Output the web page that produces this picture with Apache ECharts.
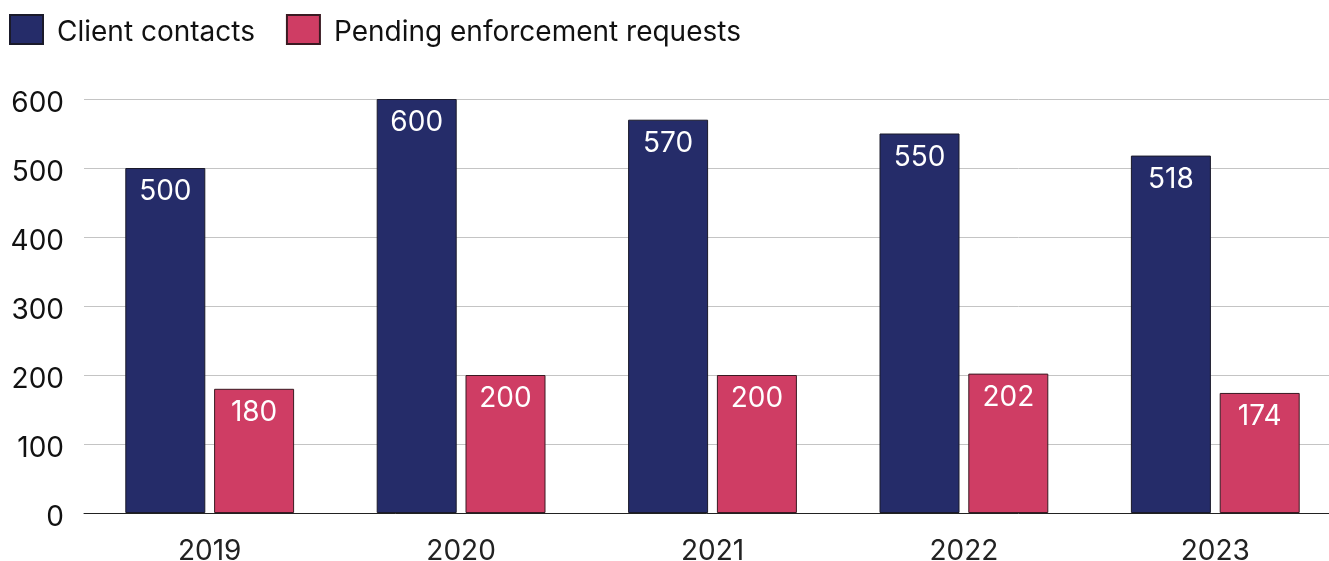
<!DOCTYPE html>
<html>
<head>
<meta charset="utf-8">
<script src="https://cdn.jsdelivr.net/npm/echarts@6/dist/echarts.min.js"></script>
<style>
html,body{margin:0;padding:0;background:#fff;}
#chart{width:1329px;height:561px;}
</style>
</head>
<body>
<div id="chart"></div>
<script>
const categories = ['2019', '2020', '2021', '2022', '2023'];
const clientContacts = [500, 600, 570, 550, 518];
const pendingRequests = [180, 200, 200, 202, 174];
const seriesNames = ['Client contacts', 'Pending enforcement requests'];
const yTicks = { min: 0, max: 600, interval: 100 };

const FONT = 'Inter, "Noto Sans", sans-serif';
const chart = echarts.init(document.getElementById('chart'));
chart.setOption({
  animation: false,
  textStyle: { fontFamily: FONT },
  legend: {
    left: 9, top: 14, padding: 0,
    itemWidth: 33, itemHeight: 29,
    itemGap: 31,
    icon: 'rect',
    formatter: '{t|{name}}',
    textStyle: {
      fontSize: 28, color: '#111', fontFamily: FONT,
      rich: { t: { fontSize: 28, color: '#111', fontFamily: FONT, padding: [6, 0, 0, 9] } }
    },
    data: seriesNames
  },
  grid: { left: 84, right: -12, top: 99, height: 414, containLabel: false, outerBoundsMode: 'none' },
  xAxis: {
    type: 'category',
    data: categories,
    axisLine: { lineStyle: { color: '#222', width: 1 } },
    axisTick: { show: false },
    axisLabel: { fontSize: 28, color: '#222', margin: 25, fontFamily: FONT }
  },
  yAxis: {
    type: 'value',
    min: yTicks.min, max: yTicks.max, interval: yTicks.interval,
    axisLine: { show: false },
    axisTick: { show: false },
    splitLine: { lineStyle: { color: '#c4c4c4', width: 1 } },
    axisLabel: {
      margin: 20,
      formatter: '{v|{value}}',
      rich: { v: { fontSize: 28, color: '#111', fontFamily: FONT, padding: [9, 0, 0, 0] } }
    }
  },
  series: [
    {
      name: seriesNames[0], type: 'bar', data: clientContacts,
      barWidth: 80, barGap: '11%',
      itemStyle: { color: '#252C69', borderColor: '#1a1a2a', borderWidth: 1 },
      label: { show: true, position: 'insideTop', distance: 10, color: '#fff', fontSize: 28, fontFamily: FONT }
    },
    {
      name: seriesNames[1], type: 'bar', data: pendingRequests,
      barWidth: 80,
      itemStyle: { color: '#CF3D64', borderColor: '#3a1a22', borderWidth: 1 },
      label: { show: true, position: 'insideTop', distance: 10, color: '#fff', fontSize: 28, fontFamily: FONT }
    }
  ]
});
</script>
</body>
</html>
